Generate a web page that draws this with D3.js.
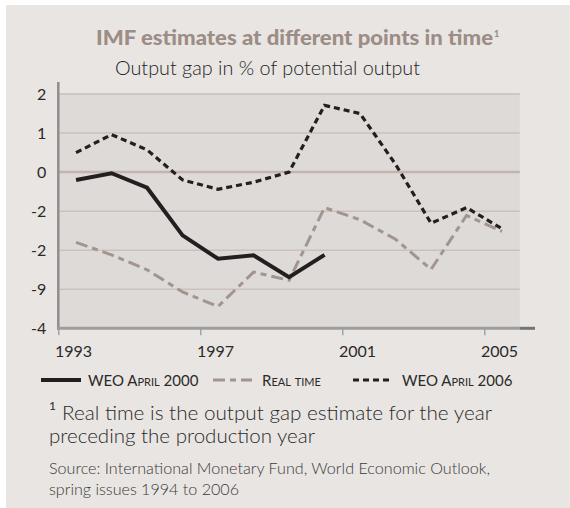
<!DOCTYPE html>
<html><head><meta charset="utf-8">
<script src="https://cdn.jsdelivr.net/npm/d3@7"></script>
<style>
html,body{margin:0;padding:0;background:#fff;}
svg{display:block;}
text{font-family:Lato,"Open Sans",sans-serif;}
</style></head>
<body>
<script>
const years = [1993,1994,1995,1996,1997,1998,1999,2000,2001,2002,2003,2004,2005];
const weoApril2000 = [-0.2,-0.03,-0.4,-1.62,-2.22,-2.13,-2.69,-2.12];
const realTime = [-1.8,-2.12,-2.5,-3.07,-3.44,-2.56,-2.77,-0.91,-1.22,-1.72,-2.49,-1.11,-1.52];
const weoApril2006 = [0.5,0.96,0.57,-0.2,-0.44,-0.26,0.0,1.71,1.5,0.2,-1.31,-0.91,-1.45];
const yTickValues = [2,1,0,-1,-2,-3,-4];
const yTickLabels = ["2","1","0","-2","-2","-9","-4"];
const xTickValues = [1993,1997,2001,2005];
const seriesNames = ["WEO April 2000","Real time","WEO April 2006"];

const W=570,H=508;
const svg=d3.select("body").append("svg").attr("width",W).attr("height",H);
svg.append("rect").attr("x",6).attr("y",5).attr("width",W-6).attr("height",H-5).attr("fill","#e9e5e2");

const x=d3.scaleLinear().domain([1993,2006]).range([58.3,519.8]);
const y=d3.scaleLinear().domain([-4,2]).range([328.3,94]);

// plot area
svg.append("rect").attr("x",x(1993)).attr("y",93).attr("width",x(2006)-x(1993)).attr("height",y(-4)-93).attr("fill","#dedad7");

// gridlines
svg.append("g").selectAll("line").data(yTickValues.filter(v=>v>-4)).join("line")
  .attr("x1",x(1993)).attr("x2",x(2006)).attr("y1",d=>y(d)).attr("y2",d=>y(d))
  .attr("stroke",d=>d===0?"#c2b5af":"#cbc1bc").attr("stroke-width",d=>d===0?2.5:1.5);

// y axis
const yAxis=d3.axisLeft(y).tickValues(yTickValues).tickSize(0).tickPadding(12)
  .tickFormat((d,i)=>yTickLabels[i]);
const gy=svg.append("g").attr("transform",`translate(${x(1993)},0)`).call(yAxis);
gy.select(".domain").remove();
gy.selectAll("text").attr("font-size",16).attr("fill","#2a2a2a");
svg.append("line").attr("x1",x(1993)).attr("x2",x(1993)).attr("y1",82).attr("y2",330)
  .attr("stroke","#8e8e8e").attr("stroke-width",2.5);

// x axis
const xAxis=d3.axisBottom(x).tickValues(xTickValues).tickSize(7).tickPadding(10).tickFormat(d3.format("d"));
const gx=svg.append("g").attr("transform",`translate(0,${y(-4)})`).call(xAxis);
gx.select(".domain").remove();
gx.selectAll(".tick line").attr("stroke","#9a9a9a").attr("stroke-width",1.3);
gx.selectAll("text").attr("font-size",16).attr("fill","#2a2a2a").attr("dx",x(1993.5)-x(1993)-3);
svg.append("line").attr("x1",x(1993)-1).attr("x2",x(2006)).attr("y1",y(-4)).attr("y2",y(-4))
  .attr("stroke","#9d9d9d").attr("stroke-width",3);
svg.append("line").attr("x1",x(2006)).attr("x2",535).attr("y1",y(-4)).attr("y2",y(-4))
  .attr("stroke","#727475").attr("stroke-width",3);

// lines
const line=d3.line().x((d,i)=>x(years[i]+0.5)).y(d=>y(d));
const styles=[
  {data:weoApril2000,color:"#231f20",w:4,dash:null},
  {data:realTime,color:"#a2958f",w:3,dash:"12,5,6,5"},
  {data:weoApril2006,color:"#231f20",w:3.2,dash:"6,4"}
];
svg.append("g").selectAll("path").data([styles[1],styles[2],styles[0]]).join("path")
  .attr("d",s=>line(s.data)).attr("fill","none").attr("stroke",s=>s.color)
  .attr("stroke-width",s=>s.w).attr("stroke-dasharray",s=>s.dash)
  .attr("stroke-linejoin","miter");

// legend
const legendPos=[{x1:41,x2:81,tx:88},{x1:213,x2:252,tx:262},{x1:353,x2:392,tx:402}];
const lg=svg.append("g");
styles.forEach((s,i)=>{
  const p=legendPos[i];
  lg.append("line").attr("x1",p.x1).attr("x2",p.x2).attr("y1",380).attr("y2",380)
    .attr("stroke",s.color).attr("stroke-width",s.w).attr("stroke-dasharray",s.dash);
  lg.append("text").attr("x",p.tx).attr("y",385.5).attr("font-size",15)
    .style("font-variant","small-caps").attr("fill","#2a2a2a").text(seriesNames[i]);
});

// titles
svg.append("text").attr("x",96).attr("y",45).attr("font-size",20).attr("font-weight",900)
  .attr("fill","#9c8d86").attr("textLength",397).attr("lengthAdjust","spacingAndGlyphs")
  .text("IMF estimates at different points in time");
svg.append("text").attr("x",494).attr("y",37).attr("font-size",9).attr("font-weight",900)
  .attr("fill","#9c8d86").text("1");
svg.append("text").attr("x",115).attr("y",75).attr("font-size",19.5).attr("font-weight",300)
  .attr("fill","#1e1e1e").attr("textLength",305).attr("lengthAdjust","spacingAndGlyphs")
  .text("Output gap in % of potential output");

// footnote
svg.append("text").attr("x",49).attr("y",410).attr("font-size",12).attr("fill","#2a2a2a").text("1");
svg.append("text").attr("x",62).attr("y",420).attr("font-size",19.5).attr("font-weight",300).attr("fill","#2a2a2a")
  .attr("textLength",430).attr("lengthAdjust","spacingAndGlyphs")
  .text("Real time is the output gap estimate for the year");
svg.append("text").attr("x",49).attr("y",443).attr("font-size",19.5).attr("font-weight",300).attr("fill","#2a2a2a")
  .attr("textLength",266).attr("lengthAdjust","spacingAndGlyphs")
  .text("preceding the production year");
svg.append("text").attr("x",49).attr("y",474).attr("font-size",15).attr("font-weight",300).attr("fill","#3a3a3a")
  .attr("textLength",441).attr("lengthAdjust","spacingAndGlyphs")
  .text("Source: International Monetary Fund, World Economic Outlook,");
svg.append("text").attr("x",49).attr("y",495).attr("font-size",15).attr("font-weight",300).attr("fill","#3a3a3a")
  .attr("textLength",190).attr("lengthAdjust","spacingAndGlyphs")
  .text("spring issues 1994 to 2006");
</script>
</body></html>
